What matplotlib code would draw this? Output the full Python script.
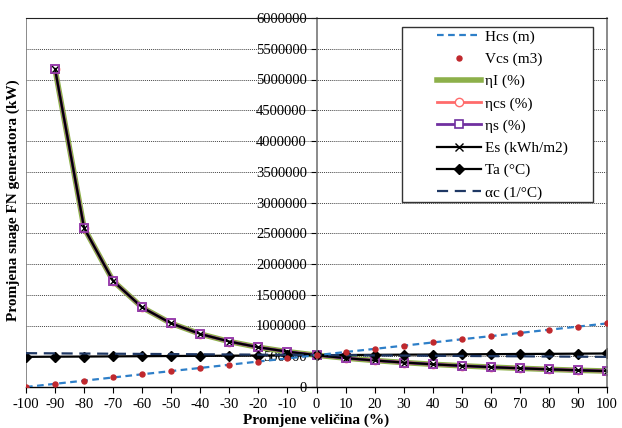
import matplotlib
matplotlib.use("Agg")
import matplotlib.pyplot as plt
from matplotlib.patches import Rectangle

plt.rcParams['font.family'] = ['Liberation Serif', 'DejaVu Serif']

x_all = [-100, -90, -80, -70, -60, -50, -40, -30, -20, -10, 0,
         10, 20, 30, 40, 50, 60, 70, 80, 90, 100]
x_eff = x_all[1:]

hcs = [0, 52000, 103000, 155000, 207000, 259000, 310000, 362000, 414000, 465000, 517000,
       569000, 620000, 672000, 724000, 776000, 827000, 879000, 931000, 982000, 1034000]
vcs = [0, 52000, 103000, 155000, 207000, 259000, 310000, 362000, 414000, 465000, 517000,
       569000, 620000, 672000, 724000, 776000, 827000, 879000, 931000, 982000, 1034000]
eta_i = [5170000, 2585000, 1723000, 1293000, 1034000, 862000, 739000, 646000, 574000, 517000,
         470000, 431000, 398000, 369000, 345000, 323000, 304000, 287000, 272000, 259000]
eta_cs = [5170000, 2585000, 1723000, 1293000, 1034000, 862000, 739000, 646000, 574000, 517000,
          470000, 431000, 398000, 369000, 345000, 323000, 304000, 287000, 272000, 259000]
eta_s = [5170000, 2585000, 1723000, 1293000, 1034000, 862000, 739000, 646000, 574000, 517000,
         470000, 431000, 398000, 369000, 345000, 323000, 304000, 287000, 272000, 259000]
es = [5170000, 2585000, 1723000, 1293000, 1034000, 862000, 739000, 646000, 574000, 517000,
      470000, 431000, 398000, 369000, 345000, 323000, 304000, 287000, 272000, 259000]
ta = [490000, 493000, 495000, 498000, 501000, 504000, 506000, 509000, 512000, 515000, 517000,
      520000, 523000, 526000, 528000, 531000, 534000, 537000, 539000, 542000, 545000]
alpha_c = [550000, 547000, 544000, 541000, 538000, 535000, 532000, 529000, 526000, 523000, 520000,
           517000, 514000, 511000, 508000, 505000, 502000, 499000, 496000, 493000, 490000]

x_ticks = list(range(-100, 101, 10))
y_ticks = list(range(0, 6000001, 500000))

W, H = 622, 428
fig = plt.figure(figsize=(W / 100, H / 100), dpi=100)
ax = fig.add_axes([26 / W, 1 - 387 / H, (607 - 26) / W, (387 - 18) / H])

ax.plot(x_all, hcs, color='#2E7FC8', lw=1.6, ls=(0, (3, 2)), label='Hcs (m)', zorder=3)
ax.plot(x_all, vcs, color='#C0282D', ls='none', marker='o', ms=3.6, label='Vcs (m3)', zorder=3.1)
ax.plot(x_eff, eta_i, color='#8DB04A', lw=4, label='ηI (%)', zorder=2)
ax.plot(x_eff, eta_cs, color='#FF6B6B', lw=2, marker='o', ms=6, mfc='white', label='ηcs (%)', zorder=2.1)
ax.plot(x_eff, eta_s, color='#7030A0', lw=2, marker='s', ms=6, mfc='white', mew=1.2, label='ηs (%)', zorder=2.2)
ax.plot(x_eff, es, color='black', lw=1.6, marker='x', ms=6, label='Es (kWh/m2)', zorder=2.3)
ax.plot(x_eff, eta_s, color='#A040B0', ls='none', marker='s', ms=6, mfc='none', mew=1.2, zorder=2.4)
ax.plot(x_all, ta, color='black', lw=1.6, marker='D', ms=5, label='Ta (°C)', zorder=2.5)
ax.plot(x_all, alpha_c, color='#1F3864', lw=1.6, ls=(0, (5, 3)), label='αc (1/°C)', zorder=2.6)

ax.set_xlim(-100, 100)
ax.set_ylim(0, 6000000)
ax.set_xticks(x_ticks)
ax.set_xticklabels([str(v) for v in x_ticks])
ax.set_yticks(y_ticks)
ax.set_yticklabels([str(v) for v in y_ticks])
ax.tick_params(axis='both', labelsize=10.5, direction='out', length=4, width=0.8, colors='black')
ax.tick_params(axis='x', pad=4)
ax.tick_params(axis='y', pad=3)
for lab in ax.get_yticklabels():
    lab.set_bbox(dict(facecolor='white', edgecolor='none', pad=0.3))

ax.yaxis.grid(True, ls=(0, (1, 1)), color='#444444', lw=0.7)
ax.set_axisbelow(True)

ax.spines['left'].set_position(('data', 0))
ax.spines['left'].set_color('#777777')
ax.spines['left'].set_linewidth(1.2)
ax.spines['bottom'].set_color('black')
ax.spines['bottom'].set_linewidth(1.0)
ax.spines['top'].set_color('#222222')
ax.spines['right'].set_color('#777777')
ax.spines['right'].set_linewidth(1.2)
ax.axvline(-100, color='#777777', lw=1.2, zorder=1)

fig.text(316 / W, 1 - 420 / H, 'Promjene veličina (%)', ha='center', va='center',
         fontsize=11, fontweight='bold')
fig.text(13 / W, 1 - 200 / H, 'Promjena snage FN generatora (kW)', ha='center', va='center',
         rotation=90, fontsize=11, fontweight='bold')

rect = Rectangle((402 / W, 1 - 202 / H), (593 - 402) / W, (202 - 27) / H,
                 transform=fig.transFigure, facecolor='white', edgecolor='#333333',
                 lw=1.0, zorder=4)
ax.add_patch(rect)
rect.set_clip_on(False)
leg = ax.legend(loc='upper left', bbox_to_anchor=(437 / W, 1 - 30 / H),
                bbox_transform=fig.transFigure, frameon=False, fontsize=11,
                borderpad=0, borderaxespad=0, handlelength=2.9, handletextpad=0.25,
                labelspacing=0.55)
leg.set_zorder(5)

fig.savefig('out.png', dpi=100)
